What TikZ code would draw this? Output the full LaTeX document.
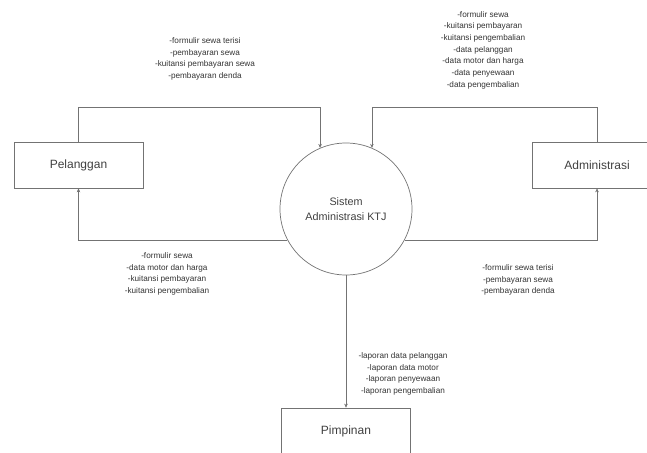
\documentclass[tikz,border=0pt]{standalone}
\usepackage{fontspec}
\setmainfont{Liberation Sans}
\usetikzlibrary{arrows.meta}
\begin{document}
\begin{tikzpicture}[x=1pt,y=-1pt,
  entity/.style={draw=black!55, line width=0.7pt, minimum width=129pt, minimum height=46pt,
    font=\fontsize{12}{14}\selectfont, text=black!75},
  proc/.style={circle, draw=black!55, line width=0.7pt, minimum size=132pt, inner sep=0pt,
    align=center, font=\fontsize{10.8}{15}\selectfont, text=black!75},
  flow/.style={align=center, font=\fontsize{8.2}{11.7}\selectfont, text=black!80},
  >={Stealth[length=4pt,width=3.5pt]}]
  \useasboundingbox (0,0) rectangle (647,452);
  % entitas dan proses
  \node[entity] (pel) at (78.5,165) {Pelanggan};
  \node[entity] (adm) at (597,165) {Administrasi};
  \node[entity] (pim) at (346,431) {Pimpinan};
  \node[proc] (sis) at (346,209) {Sistem\\Administrasi KTJ};
  % aliran data
  \draw[black!55,->] (pel.north) -- ++(0,-34) -| (sis.113);
  \draw[black!55,->] (adm.north) -- ++(0,-34) -| (sis.67);
  \draw[black!55,->] (sis.208) -| (pel.south);
  \draw[black!55,->] (sis.-28) -| (adm.south);
  \draw[black!55,->] (sis.south) -- (pim.north);
  % keterangan aliran
  \node[flow] (f1) at (205,59) {-formulir sewa terisi\\-pembayaran sewa\\-kuitansi pembayaran sewa\\-pembayaran denda};
  \node[flow] (f2) at (483,50) {-formulir sewa\\-kuitansi pembayaran\\-kuitansi pengembalian\\-data pelanggan\\-data motor dan harga\\-data penyewaan\\-data pengembalian};
  \node[flow] (f3) at (167,274) {-formulir sewa\\-data motor dan harga\\-kuitansi pembayaran\\-kuitansi pengembalian};
  \node[flow] (f4) at (518,280) {-formulir sewa terisi\\-pembayaran sewa\\-pembayaran denda};
  \node[flow] (f5) at (403,374) {-laporan data pelanggan\\-laporan data motor\\-laporan penyewaan\\-laporan pengembalian};
\end{tikzpicture}
\end{document}
